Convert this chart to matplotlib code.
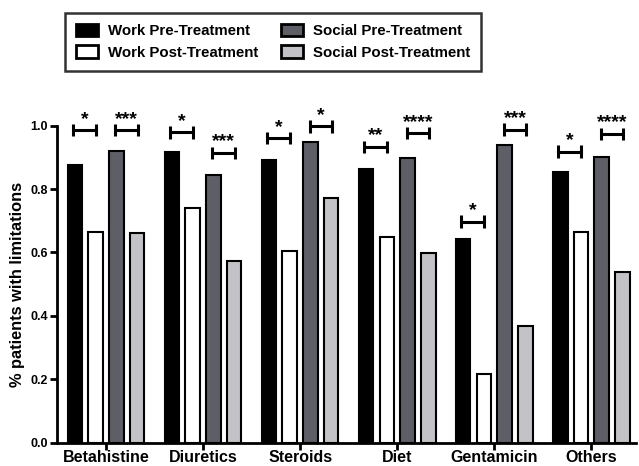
import matplotlib
matplotlib.use("Agg")
import matplotlib.pyplot as plt
import numpy as np

categories = ["Betahistine", "Diuretics", "Steroids", "Diet", "Gentamicin", "Others"]
series_names = ["Work Pre-Treatment", "Work Post-Treatment", "Social Pre-Treatment", "Social Post-Treatment"]
work_pre = [0.877, 0.918, 0.890, 0.864, 0.643, 0.855]
work_post = [0.665, 0.739, 0.605, 0.650, 0.215, 0.665]
social_pre = [0.921, 0.845, 0.949, 0.898, 0.940, 0.902]
social_post = [0.661, 0.574, 0.771, 0.598, 0.368, 0.538]
work_sig = ["*", "*", "*", "**", "*", "*"]
work_sig_y = [0.986, 0.979, 0.961, 0.933, 0.697, 0.918]
social_sig = ["***", "***", "*", "****", "***", "****"]
social_sig_y = [0.986, 0.914, 0.998, 0.977, 0.987, 0.974]
yticks = [0.0, 0.2, 0.4, 0.6, 0.8, 1.0]

colors = ["#000000", "#ffffff", "#5e5e66", "#c3c3c7"]

plt.rcParams['font.family'] = ['Liberation Sans', 'DejaVu Sans']
plt.rcParams['font.weight'] = 'bold'

fig = plt.figure(figsize=(6.39, 4.66), dpi=100)
ax = fig.add_axes([0.0892, 0.0504, 0.906, 0.680])

x = np.arange(len(categories))
offsets = [-0.32, -0.107, 0.107, 0.32]
width = 0.15
series = [work_pre, work_post, social_pre, social_post]
for s, off, c, name in zip(series, offsets, colors, series_names):
    ax.bar(x + off, s, width, color=c, edgecolor="black", linewidth=1.5, label=name, zorder=2)

def bracket(x0, x1, y, txt):
    cap = 0.02
    kw = dict(color="black", lw=2.2, clip_on=False, solid_capstyle="butt")
    ax.plot([x0, x1], [y, y], **kw)
    ax.plot([x0, x0], [y - cap, y + cap], **kw)
    ax.plot([x1, x1], [y - cap, y + cap], **kw)
    ax.text((x0 + x1) / 2, y + 0.02, txt, ha="center", va="baseline", fontsize=14,
            fontweight="bold", clip_on=False)

for i in range(len(categories)):
    bracket(x[i] + offsets[0] - 0.02, x[i] + offsets[1] + 0.005, work_sig_y[i], work_sig[i])
    bracket(x[i] + offsets[2] - 0.01, x[i] + offsets[3] + 0.01, social_sig_y[i], social_sig[i])

ax.set_xlim(-0.505, 5.46)
ax.set_ylim(0, 1.0)
ax.set_xticks(x)
ax.set_xticklabels(categories, fontsize=11.5, fontweight="bold")
ax.set_yticks(yticks)
ax.set_yticklabels([f"{v:.1f}" for v in yticks], fontsize=9, fontweight="bold")
ax.set_ylabel("% patients with limitations", fontsize=11.8, fontweight="bold", labelpad=4)
for side in ["top", "right"]:
    ax.spines[side].set_visible(False)
for side in ["left", "bottom"]:
    ax.spines[side].set_linewidth(2)
ax.tick_params(axis="both", width=2, length=5, direction="out")
ax.tick_params(axis="x", pad=0.5)
ax.tick_params(axis="y", pad=1.5)

leg = fig.legend(loc="upper left", bbox_to_anchor=(0.1017, 0.972), ncol=2, frameon=True,
                 fancybox=False, edgecolor="black", prop={"size": 10.8, "weight": "bold"},
                 handlelength=1.47, handleheight=0.9, columnspacing=1.5, borderpad=0.72,
                 labelspacing=0.48, handletextpad=0.67, borderaxespad=0)
leg.get_frame().set_linewidth(1.8)
for h in leg.legend_handles:
    h.set_linewidth(2)

fig.savefig("out.png", dpi=100)
